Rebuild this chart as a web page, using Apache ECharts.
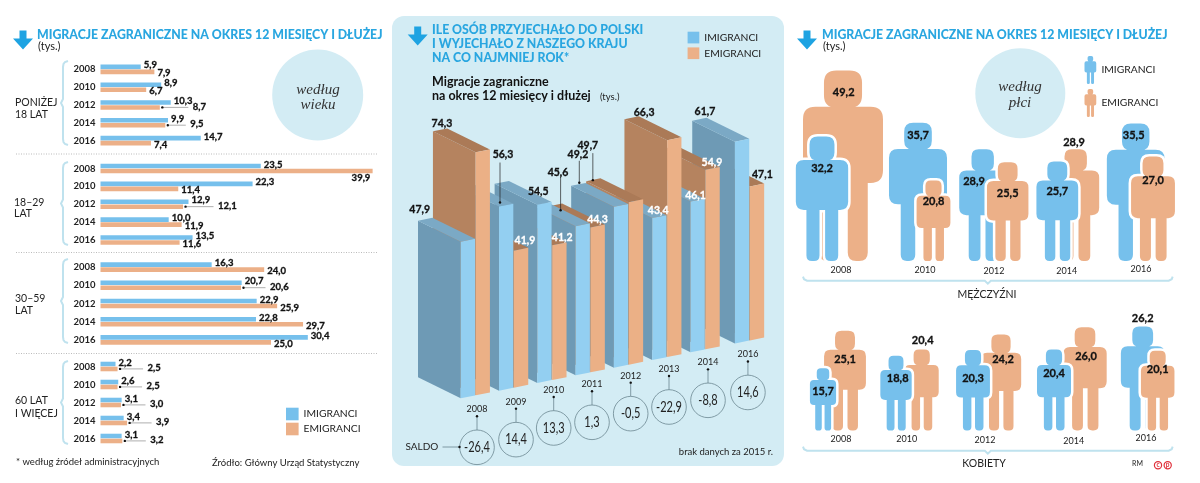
<!DOCTYPE html>
<html>
<head>
<meta charset="utf-8">
<style>html,body{margin:0;padding:0;background:#fff}#chart{width:1200px;height:483px}</style>
<script src="https://cdn.jsdelivr.net/npm/echarts@6/dist/echarts.min.js"></script>
</head>
<body>
<div id="chart"></div>
<script>
// data: left panel (age groups)
var ageYears = ['2008', '2010', '2012', '2014', '2016'];
var under18Imi = [5.9, 8.9, 10.3, 9.9, 14.7];
var under18Emi = [7.9, 6.7, 8.7, 9.5, 7.4];
var age18Imi = [23.5, 22.3, 12.9, 10.0, 13.5];
var age18Emi = [39.9, 11.4, 12.1, 11.9, 11.6];
var age30Imi = [16.3, 20.7, 22.9, 22.8, 30.4];
var age30Emi = [24.0, 20.6, 25.9, 29.7, 25.0];
var age60Imi = [2.2, 2.6, 3.1, 3.4, 3.1];
var age60Emi = [2.5, 2.5, 3.0, 3.9, 3.2];

// data: middle panel
var totalYears = ['2008', '2009', '2010', '2011', '2012', '2013', '2014', '2016'];
var totalImi = [47.9, 56.3, 54.5, 45.6, 49.2, 43.4, 46.1, 61.7];
var totalEmi = [74.3, 41.9, 41.2, 44.3, 49.7, 66.3, 54.9, 47.1];
var saldo = [-26.4, 14.4, 13.3, 1.3, -0.5, -22.9, -8.8, 14.6];

// data: right panel
var sexYears = ['2008', '2010', '2012', '2014', '2016'];
var menImi = [32.2, 35.7, 28.9, 25.7, 35.5];
var menEmi = [49.2, 20.8, 25.5, 28.9, 27.0];
var womenImi = [15.7, 18.8, 20.3, 20.4, 26.2];
var womenEmi = [25.1, 20.4, 24.2, 26.0, 20.1];

var BLUE = '#76c0ec', ORANGE = '#ecb088', TITLE = '#29a6e0', PALE = '#d3ecf4', BRACE = '#bfe2ee';
var FONT = 'Lato, sans-serif';

function fmt(v) { return v.toFixed(1).replace('.', ','); }

// layout of the left panel
var ageGroups = [
    {imi: under18Imi, emi: under18Emi, top: 60.5, height: 89, leaders: [0, 0, 26, 18, 0]},
    {imi: age18Imi, emi: age18Emi, top: 159.5, height: 89.5, leaders: [0, 0, 28, 0, 0]},
    {imi: age30Imi, emi: age30Emi, top: 258, height: 91, leaders: [0, 22, 0, 0, 0]},
    {imi: age60Imi, emi: age60Emi, top: 357.5, height: 90, leaders: [23, 22, 22, 22, 21]}
];

var grids = [], xAxes = [], yAxes = [], series = [];

ageGroups.forEach(function (g, i) {
    grids.push({left: 100.5, width: 272.8, top: g.top, height: g.height});
    xAxes.push({gridIndex: i, type: 'value', min: 0, max: 40, show: false});
    yAxes.push({
        gridIndex: i, type: 'category', inverse: true, data: ageYears,
        axisLine: {show: false}, axisTick: {show: false},
        axisLabel: {margin: 5, color: '#222', fontFamily: FONT, fontWeight: 'bold', fontSize: 9.5}
    });
    series.push({
        name: 'IMIGRANCI', type: 'bar', xAxisIndex: i, yAxisIndex: i,
        barWidth: 4.6, barGap: '8%', itemStyle: {color: BLUE}, silent: true,
        label: {
            show: true, position: 'right', distance: 3, offset: [0, -1.5], color: '#111',
            fontFamily: FONT, fontWeight: 'bold', fontSize: 9.5, textBorderColor: '#111', textBorderWidth: 0.3,
            formatter: function (p) { return fmt(p.value); }
        },
        data: g.imi
    });
    series.push({
        name: 'EMIGRANCI', type: 'bar', xAxisIndex: i, yAxisIndex: i,
        barWidth: 4.6, barGap: '8%', itemStyle: {color: ORANGE}, silent: true,
        label: {
            show: true, position: 'right', distance: 3, color: '#111',
            fontFamily: FONT, fontWeight: 'bold', fontSize: 9.5, textBorderColor: '#111', textBorderWidth: 0.3,
            formatter: function (p) { return fmt(p.value); }
        },
        data: g.emi.map(function (v, k) {
            var off = g.leaders[k] ? [g.leaders[k] + 4, -1] : [0, 1.5];
            if (v === 39.9) { off = [-24, 7]; }
            return {value: v, label: {offset: off}};
        })
    });
    // thin lines from the orange bar to its label
    var rows = [];
    g.emi.forEach(function (v, k) { if (g.leaders[k]) { rows.push([v, k, g.leaders[k]]); } });
    series.push({
        type: 'custom', xAxisIndex: i, yAxisIndex: i, silent: true, z: 3, data: rows,
        renderItem: function (params, api) {
            var pt = api.coord([api.value(0), api.value(1)]);
            var x = pt[0] + 2.5, y = pt[1] + 2.4;
            return {type: 'group', children: [
                {type: 'line', shape: {x1: x, y1: y, x2: x + api.value(2), y2: y}, style: {stroke: '#999', lineWidth: 0.8}},
                {type: 'circle', shape: {cx: x, cy: y, r: 1.2}, style: {fill: '#111'}}
            ]};
        }
    });
});

// middle panel: pseudo 3D bars, every bar stands on a rising base line
var midGrid = grids.length;
var SLOPE = 0.2, DEPTH = [-42.7, -21], BAR_W = 14.3, ORANGE_STEP = 0.39;
var midPos = [0, 1, 2, 3, 4, 5, 6, 7.16];
grids.push({left: 460.7, width: 306.4, top: 136.7, height: 261.6});
xAxes.push({gridIndex: midGrid, type: 'value', min: 0, max: 8, show: false});
yAxes.push({gridIndex: midGrid, type: 'value', min: 0, max: 80, show: false});

function midPoint(api, c, v) {
    var pt = api.coord([c, v]);
    var x0 = api.coord([0, 0])[0];
    return [pt[0], pt[1] - (pt[0] - x0) * SLOPE];
}

var barRows = [];
for (var b = totalYears.length - 1; b >= 0; b--) {
    barRows.push([midPos[b] + ORANGE_STEP, totalEmi[b], 1]);
    barRows.push([midPos[b], totalImi[b], 0]);
}
var faceColors = [
    {front: '#93cff1', side: '#6e9ab5', top: '#7ba9c5'},
    {front: '#ebb086', side: '#b5835f', top: '#ab7a57'}
];
series.push({
    type: 'custom', xAxisIndex: midGrid, yAxisIndex: midGrid, silent: true, z: 3, data: barRows,
    renderItem: function (params, api) {
        var bottom = midPoint(api, api.value(0), 0);
        var top = midPoint(api, api.value(0), api.value(1));
        var col = faceColors[api.value(2)];
        var rise = BAR_W * SLOPE;
        var dx = DEPTH[0], dy = DEPTH[1];
        return {type: 'group', children: [
            {type: 'polygon', shape: {points: [bottom, [bottom[0] + dx, bottom[1] + dy], [top[0] + dx, top[1] + dy], top]}, style: {fill: col.side}},
            {type: 'polygon', shape: {points: [top, [top[0] + dx, top[1] + dy], [top[0] + dx + BAR_W, top[1] + dy - rise], [top[0] + BAR_W, top[1] - rise]]}, style: {fill: col.top}},
            {type: 'polygon', shape: {points: [bottom, [bottom[0] + BAR_W, bottom[1] - rise], [top[0] + BAR_W, top[1] - rise], top]}, style: {fill: col.front}}
        ]};
    }
});

// label offsets from the front left top corner, [dx, dy, white?, leaderX, leaderTop, leaderDot]
var imiLabelPos = [
    [-41, -32, 0], [4, -51.5, 0, 1, -44, -4], [1, -13, 0], [-17.6, -54, 0, -15, -50, -16],
    [-36, -52, 0, -34.6, -46, -24], [6, -7, 1], [5, -6, 1], [-30, -30, 0]
];
var emiLabelPos = [
    [-33.7, -29, 0], [11, -10, 1], [10, -8, 1], [7, -8, 1],
    [-41, -57, 0, -36, -49, -22], [-23, -28, 0], [6.5, -7, 1], [12.5, -11.6, 0]
];
var midLabels = [];
totalYears.forEach(function (y, i) {
    midLabels.push([midPos[i], totalImi[i], i, 0]);
    midLabels.push([midPos[i] + ORANGE_STEP, totalEmi[i], i, 1]);
});
series.push({
    type: 'custom', xAxisIndex: midGrid, yAxisIndex: midGrid, silent: true, z: 5, data: midLabels,
    renderItem: function (params, api) {
        var top = midPoint(api, api.value(0), api.value(1));
        var pos = (api.value(3) ? emiLabelPos : imiLabelPos)[api.value(2)];
        var col = pos[2] ? '#fff' : '#111';
        var kids = [{
            type: 'text', x: top[0] + pos[0], y: top[1] + pos[1],
            style: {text: fmt(api.value(1)), fill: col, stroke: col, lineWidth: 0.3, font: 'bold 10.5px ' + FONT, align: 'center', verticalAlign: 'middle'}
        }];
        if (pos.length > 3) {
            var lx = top[0] + pos[3];
            kids.push({type: 'line', shape: {x1: lx, y1: top[1] + pos[4], x2: lx, y2: top[1] + pos[5]}, style: {stroke: '#222', lineWidth: 0.7}});
            kids.push({type: 'circle', shape: {cx: lx, cy: top[1] + pos[5], r: 1.2}, style: {fill: '#111'}});
        }
        return {type: 'group', children: kids};
    }
});

// saldo circles below each year
var saldoDrop = [49, 49, 45, 47, 46, 47, 48, 49];
var saldoShift = [16.3, 17, 16.4, 16.4, 16.8, 16.8, 17.5, 13];
var saldoRows = saldo.map(function (v, i) { return [midPos[i], v, i]; });
series.push({
    type: 'custom', xAxisIndex: midGrid, yAxisIndex: midGrid, silent: true, z: 4, data: saldoRows,
    renderItem: function (params, api) {
        var i = api.value(2);
        var base = midPoint(api, api.value(0), 0);
        var x = base[0] + saldoShift[i], y = base[1] + saldoDrop[i];
        return {type: 'group', children: [
            {type: 'line', shape: {x1: x, y1: y - 31, x2: x, y2: y - 17}, style: {stroke: '#6b8790', lineWidth: 0.8}},
            {type: 'circle', shape: {cx: x, cy: y - 31, r: 1.2}, style: {fill: '#111'}},
            {type: 'text', x: x, y: y - 38, style: {text: totalYears[i], fill: '#222', font: '9px ' + FONT, align: 'center', verticalAlign: 'middle'}},
            {type: 'circle', shape: {cx: x, cy: y, r: 17.3}, style: {fill: PALE, stroke: '#6b8790', lineWidth: 0.8}},
            {type: 'text', x: x, y: y, scaleX: 0.76, style: {text: fmt(api.value(1)), fill: '#222', font: '14.5px ' + FONT, align: 'center', verticalAlign: 'middle'}}
        ]};
    }
});

// right panel: people, height follows the value
function rrect(x, y, w, h, r) {
    return 'M' + (x + r) + ' ' + y + 'L' + (x + w - r) + ' ' + y + 'Q' + (x + w) + ' ' + y + ' ' + (x + w) + ' ' + (y + r) +
        'L' + (x + w) + ' ' + (y + h - r) + 'Q' + (x + w) + ' ' + (y + h) + ' ' + (x + w - r) + ' ' + (y + h) +
        'L' + (x + r) + ' ' + (y + h) + 'Q' + x + ' ' + (y + h) + ' ' + x + ' ' + (y + h - r) +
        'L' + x + ' ' + (y + r) + 'Q' + x + ' ' + y + ' ' + (x + r) + ' ' + y + 'Z';
}
var PERSON = rrect(11, 0, 20, 19.5, 6.5) + rrect(16, 14, 10, 8, 1) + rrect(0, 19, 42, 40, 6.5) +
    rrect(8.5, 50, 10.5, 50, 4.5) + rrect(23.5, 50, 10.5, 50, 4.5);

function personSeries(gridIdx, rows) {
    return {
        type: 'custom', xAxisIndex: gridIdx, yAxisIndex: gridIdx, silent: true, z: 3, data: rows,
        renderItem: function (params, api) {
            var cx = api.value(0), v = api.value(1);
            var bottom = api.coord([cx, 0]), top = api.coord([cx, v]);
            var h = bottom[1] - top[1], w = h * 0.42;
            var shape = {pathData: PERSON, layout: 'cover', x: bottom[0] - w / 2, y: top[1], width: w, height: h};
            var kids = [];
            if (api.value(3)) {
                kids.push({type: 'path', shape: shape, style: {fill: '#fff', stroke: '#fff', lineWidth: 5}});
            }
            kids.push({type: 'path', shape: shape, style: {fill: api.value(2) ? ORANGE : BLUE}});
            return {type: 'group', children: kids};
        }
    };
}
// labels go in their own series so no figure covers them
function personLabelSeries(gridIdx, rows) {
    return {
        type: 'custom', xAxisIndex: gridIdx, yAxisIndex: gridIdx, silent: true, z: 5, data: rows,
        renderItem: function (params, api) {
            var cx = api.value(0), v = api.value(1);
            var bottom = api.coord([cx, 0]), top = api.coord([cx, v]);
            return {
                type: 'text', x: bottom[0] + api.value(4), y: top[1] + api.value(5),
                style: {text: fmt(v), fill: '#111', stroke: '#111', lineWidth: 0.3, font: 'bold 11px ' + FONT, align: 'center', verticalAlign: 'middle'}
            };
        }
    };
}

// cx, label dx, label dy per figure; front says which figure stands before the other
var menImiLayout = [[822, 0, 32], [918, 0, 13], [982.7, -8.7, 32], [1057.3, 0, 29.5], [1135.7, -2, 11.5]];
var menEmiLayout = [[843, 0.7, 22], [933.5, 0, 21], [1007.7, 0, 31], [1075.7, -1.7, -7], [1153, 0, 24]];
var menEmiFront = [0, 1, 1, 0, 1];
var womenImiLayout = [[823, 0, 23], [896, 1.7, 23], [973, 0, 28.4], [1054, 0, 24], [1142.7, 0, -8]];
var womenEmiLayout = [[845, 0, 28.4], [921.7, 1, -9], [1001, 2, 25.5], [1085, 1, 29.4], [1157.7, 0, 18.6]];
var womenEmiFront = [0, 0, 0, 0, 1];

function peopleRows(imi, emi, imiLay, emiLay, emiFront) {
    var rows = [];
    imi.forEach(function (v, i) {
        var a = [imiLay[i][0], v, 0, emiFront[i] ? 0 : 1, imiLay[i][1], imiLay[i][2]];
        var b = [emiLay[i][0], emi[i], 1, emiFront[i] ? 1 : 0, emiLay[i][1], emiLay[i][2]];
        if (emiFront[i]) { rows.push(a, b); } else { rows.push(b, a); }
    });
    return rows;
}

var menGrid = grids.length;
var menRows = peopleRows(menImi, menEmi, menImiLayout, menEmiLayout, menEmiFront);
grids.push({left: 0, width: 1200, top: 67.5, height: 193.5});
xAxes.push({gridIndex: menGrid, type: 'value', min: 0, max: 1200, show: false});
yAxes.push({gridIndex: menGrid, type: 'value', min: 0, max: 50, show: false});
series.push(personSeries(menGrid, menRows), personLabelSeries(menGrid, menRows));

var womenGrid = grids.length;
var womenRows = peopleRows(womenImi, womenEmi, womenImiLayout, womenEmiLayout, womenEmiFront);
grids.push({left: 0, width: 1200, top: 311.4, height: 119.1});
xAxes.push({gridIndex: womenGrid, type: 'value', min: 0, max: 1200, show: false});
yAxes.push({gridIndex: womenGrid, type: 'value', min: 0, max: 30, show: false});
series.push(personSeries(womenGrid, womenRows), personLabelSeries(womenGrid, womenRows));

// decoration and plain texts
function txt(x, y, s, font, fill, align) {
    return {type: 'text', x: x, y: y, z: 6, silent: true, style: {text: s, font: font + ' ' + FONT, fill: fill || '#222', align: align || 'left', verticalAlign: 'middle'}};
}
function serifTxt(x, y, s) {
    return {type: 'text', x: x, y: y, z: 6, silent: true, style: {text: s, font: 'italic 15px "Liberation Serif", serif', fill: '#333', align: 'center', verticalAlign: 'middle'}};
}
function arrow(cx, top) {
    return {type: 'polygon', silent: true, shape: {points: [
        [cx - 3.5, top], [cx + 3.5, top], [cx + 3.5, top + 8], [cx + 10, top + 8], [cx, top + 19], [cx - 10, top + 8], [cx - 3.5, top + 8]
    ]}, style: {fill: '#1ea3e2'}};
}
function brace(x, y1, y2) {
    var m = (y1 + y2) / 2;
    return {type: 'polyline', silent: true, shape: {points: [
        [x + 5, y1], [x + 2, y1 + 1], [x + 0.5, y1 + 3], [x, y1 + 6], [x, m - 4], [x - 2, m], [x, m + 4], [x, y2 - 6], [x + 0.5, y2 - 3], [x + 2, y2 - 1], [x + 5, y2]
    ]}, style: {fill: null, stroke: BRACE, lineWidth: 2}};
}
function hBrace(x1, x2, y) {
    var m = (x1 + x2) / 2;
    return {type: 'polyline', silent: true, shape: {points: [
        [x1, y - 4], [x1 + 1, y - 1.5], [x1 + 4, y], [m - 3, y], [m, y + 3], [m + 3, y], [x2 - 4, y], [x2 - 1, y - 1.5], [x2, y - 4]
    ]}, style: {fill: null, stroke: BRACE, lineWidth: 2}};
}
function dotted(y) {
    return {type: 'line', silent: true, shape: {x1: 16, y1: y, x2: 378, y2: y}, style: {stroke: '#bbb', lineWidth: 1, lineDash: [1, 1.5]}};
}
function circle(cx, cy, r) {
    return {type: 'circle', silent: true, shape: {cx: cx, cy: cy, r: r}, style: {fill: PALE}};
}

var TITLE_TEXT = 'MIGRACJE ZAGRANICZNE NA OKRES 12 MIESIĘCY I DŁUŻEJ';
var TITLE_FONT = '900 12.3px';
var graphics = [
    {type: 'rect', silent: true, z: -1, shape: {x: 392, y: 16, width: 392, height: 450, r: 12}, style: {fill: PALE}},
    // left
    arrow(23, 30.5),
    txt(37, 35, TITLE_TEXT, TITLE_FONT, TITLE),
    txt(38, 46, '(tys.)', '11px'),
    brace(63, 61, 145), brace(63, 162, 245), brace(63, 259, 343), brace(63, 361, 444),
    dotted(154), dotted(252.5), dotted(353.5),
    txt(15, 103, 'PONIŻEJ', '10.5px'), txt(15, 115, '18 LAT', '10.5px'),
    txt(14, 203, '18–29', '10.5px'), txt(14, 214, 'LAT', '10.5px'),
    txt(15, 299, '30–59', '10.5px'), txt(15, 311, 'LAT', '10.5px'),
    txt(15, 401, '60 LAT', '10.5px'), txt(15, 414, 'I WIĘCEJ', '10.5px'),
    circle(317.7, 95, 45.5), serifTxt(318, 90, 'według'), serifTxt(318, 105, 'wieku'),
    txt(16, 462, '* według źródeł administracyjnych', '9.5px'),
    txt(212, 463, 'Źródło: Główny Urząd Statystyczny', '9.5px'),
    // middle
    arrow(417.7, 26.5),
    txt(432, 30.5, 'ILE OSÓB PRZYJECHAŁO DO POLSKI', TITLE_FONT, TITLE),
    txt(432, 44.5, 'I WYJECHAŁO Z NASZEGO KRAJU', TITLE_FONT, TITLE),
    txt(432, 58.5, 'NA CO NAJMNIEJ ROK*', TITLE_FONT, TITLE),
    txt(432, 82, 'Migracje zagraniczne', 'bold 12.5px', '#111'),
    txt(432, 96, 'na okres 12 miesięcy i dłużej', 'bold 12.5px', '#111'),
    txt(600, 97, '(tys.)', '9.5px'),
    txt(405.5, 447, 'SALDO', '10px'),
    {type: 'line', silent: true, z: 6, shape: {x1: 442.5, y1: 447, x2: 459.5, y2: 447}, style: {stroke: '#6b8790', lineWidth: 0.8}},
    {type: 'circle', silent: true, z: 6, shape: {cx: 459.5, cy: 447, r: 1.2}, style: {fill: '#111'}},
    txt(773, 452, 'brak danych za 2015 r.', '9.5px', '#222', 'right'),
    // right
    arrow(807, 30.5),
    txt(822, 35, TITLE_TEXT, TITLE_FONT, TITLE),
    txt(823, 46, '(tys.)', '11px'),
    circle(1020.3, 93.3, 45), serifTxt(1020, 87, 'według'), serifTxt(1020, 103, 'płci'),
    hBrace(803, 1172.7, 280.7), hBrace(803, 1172.7, 450.7),
    txt(987, 295, 'MĘŻCZYŹNI', '10.5px', '#222', 'center'),
    txt(984, 464, 'KOBIETY', '10.5px', '#222', 'center'),
    txt(1137.5, 464, 'RM', '7px', '#222', 'center'),
    {type: 'circle', silent: true, shape: {cx: 1158, cy: 465.3, r: 3.6}, style: {fill: null, stroke: '#e0303a', lineWidth: 1.2}},
    {type: 'circle', silent: true, shape: {cx: 1167.7, cy: 465.3, r: 3.6}, style: {fill: null, stroke: '#e0303a', lineWidth: 1.2}},
    txt(1158, 465.3, 'c', 'bold 6.5px', '#e0303a', 'center'),
    txt(1167.7, 465.3, 'p', 'bold 6.5px', '#e0303a', 'center')
];
var sexYearPos = [[841, 270, 841, 439], [925, 270, 906.7, 439.3], [994, 270.7, 985, 440], [1066.7, 271, 1073.7, 440.7], [1141, 269, 1146, 438]];
sexYears.forEach(function (y, i) {
    graphics.push(txt(sexYearPos[i][0], sexYearPos[i][1], y, '9px', '#222', 'center'));
    graphics.push(txt(sexYearPos[i][2], sexYearPos[i][3], y, '9px', '#222', 'center'));
});

var legendText = {color: '#222', fontFamily: FONT, fontSize: 10.3};

var chart = echarts.init(document.getElementById('chart'));
chart.setOption({
    animation: false,
    backgroundColor: '#fff',
    grid: grids,
    xAxis: xAxes,
    yAxis: yAxes,
    legend: [
        {left: 286, top: 407.7, padding: 0, orient: 'vertical', icon: 'rect', itemWidth: 12.6, itemHeight: 12.6, itemGap: 2.4, itemStyle: {borderWidth: 0},
            selectedMode: false, textStyle: legendText, data: ['IMIGRANCI', 'EMIGRANCI']},
        {left: 687.6, top: 31.7, padding: 0, orient: 'vertical', icon: 'rect', itemWidth: 11.7, itemHeight: 11.7, itemGap: 4, itemStyle: {borderWidth: 0},
            selectedMode: false, textStyle: legendText, data: ['IMIGRANCI', 'EMIGRANCI']},
        {left: 1084.5, top: 56, padding: 0, orient: 'vertical', icon: 'path://' + PERSON, itemWidth: 12, itemHeight: 28, itemGap: 5, itemStyle: {borderWidth: 0},
            selectedMode: false, textStyle: legendText, data: ['IMIGRANCI', 'EMIGRANCI']}
    ],
    graphic: {elements: graphics},
    series: series
});
</script>
</body>
</html>
